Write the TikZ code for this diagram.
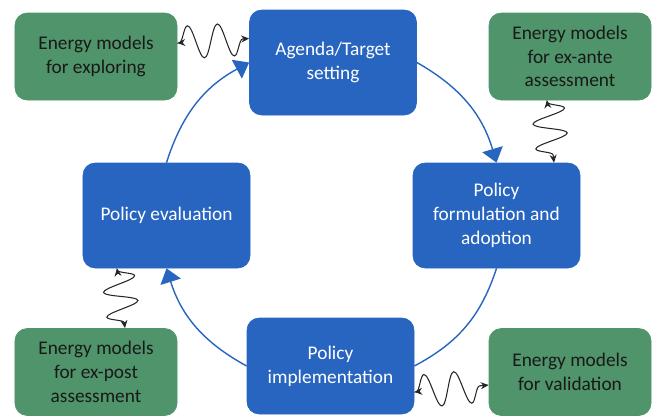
\documentclass[tikz,border=0pt]{standalone}
\usepackage{fontspec}
\setmainfont{Carlito}
\usetikzlibrary{arrows.meta,decorations.pathmorphing}
\usetikzlibrary{positioning}
\definecolor{stageblue}{RGB}{40,101,192}
\definecolor{modelgreen}{RGB}{79,148,106}
\tikzset{
    stage/.style={
           rectangle,
           rounded corners=7pt,
           fill=stageblue,
           draw=stageblue,
           text=white,
           minimum width=3.34cm,
           minimum height=2.1cm,
           align=center,
           font=\fontsize{11}{13.5}\selectfont,
           },
    model/.style={
           rectangle,
           rounded corners=7pt,
           fill=modelgreen,
           draw=modelgreen,
           text=black!90,
           minimum width=3.24cm,
           minimum height=1.74cm,
           align=center,
           font=\fontsize{11}{13.5}\selectfont,
           },
    loopline/.style={
           color=stageblue,
           line width=0.8pt,
           },
    linkwave/.style={
           draw=black!85,
           line width=0.6pt,
           {Stealth[length=4.5pt,width=4pt]}-{Stealth[length=4.5pt,width=4pt]},
           decorate,
           decoration={snake, amplitude=0.33cm, segment length=#1,
                       pre length=1pt, post length=1pt},
           },
    linkwave/.default=0.6cm,
}

\begin{document}
\begin{tikzpicture}[>={Triangle[length=8pt,width=12pt]}]
 \useasboundingbox (0,0) rectangle (13.1,8.3);

 \node[stage] (AGENDA) at (6.66,7.05)
 {Agenda/Target\\setting};

 \node[stage] (FORMULATION) at (9.93,3.99)
 {Policy\\formulation and\\adoption};

 \node[stage,
 node distance=6.6cm,
 left of=FORMULATION,
 ] (EVALUATION)
 {Policy evaluation};

 \node[stage, minimum height=1.92cm] (IMPLEMENTATION) at (6.61,0.98)
 {Policy\\implementation};

 \node[model] (EXPLORE) at (1.92,7.17)
 {Energy models\\for exploring};

 \node[model,
 node distance=9.48cm,
 right of=EXPLORE,
 ] (EXANTE)
 {Energy models\\for ex-ante\\assessment};

 \node[model,
 node distance=6.31cm,
 below of=EXPLORE,
 ] (EXPOST)
 {Energy models\\for ex-post\\assessment};

 \node[model,
 node distance=9.48cm,
 right of=EXPOST,
 ] (VALIDATION)
 {Energy models\\for validation};

 % policy cycle
 \draw[loopline, ->] (EVALUATION.north) to[bend left=22] (AGENDA.west);
 \draw[loopline, ->] (AGENDA.east) to[bend left=22] (FORMULATION.north);
 \draw[loopline] (FORMULATION.south) to[bend left=22] (IMPLEMENTATION.east);
 \draw[loopline, ->] (IMPLEMENTATION.west) to[bend left=22] (EVALUATION.south);

 % model links
 \draw[linkwave] ([yshift=0.27cm]EXPLORE.east) -- ([yshift=0.48cm]AGENDA.west);
 \draw[linkwave=0.5cm] ([xshift=-0.46cm]EXANTE.south) -- ([xshift=1.15cm]FORMULATION.north);
 \draw[linkwave=0.5cm] ([xshift=-0.99cm]EVALUATION.south) -- ([xshift=0.58cm]EXPOST.north);
 \draw[linkwave] ([yshift=-0.52cm]IMPLEMENTATION.east) -- ([yshift=-0.26cm]VALIDATION.west);
\end{tikzpicture}
\end{document}
